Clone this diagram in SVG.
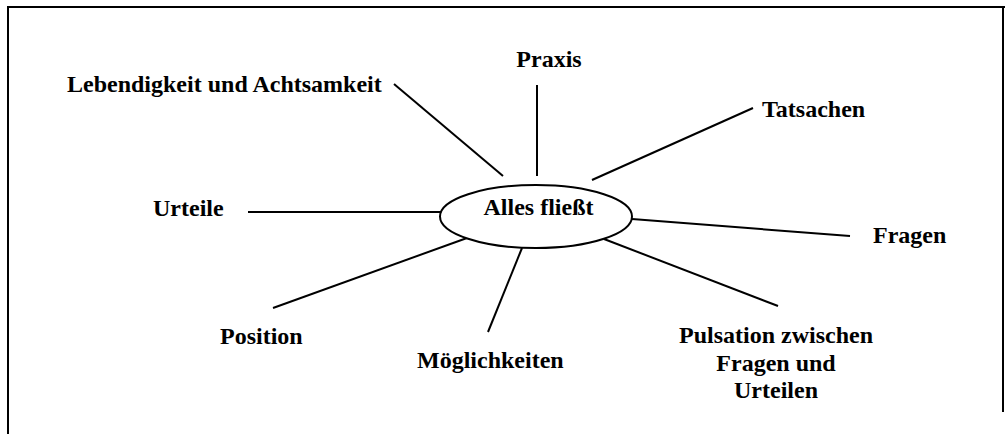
<svg xmlns="http://www.w3.org/2000/svg" width="1005" height="434" viewBox="0 0 1005 434">
<style>
.t{font-family:"Liberation Serif","Times New Roman",serif;font-weight:bold;font-size:24px;fill:#000}
.c{stroke:#000;stroke-width:2;fill:none}
.b{stroke:#000;stroke-width:2;fill:none}
</style>
<rect width="1005" height="434" fill="#fff"/>
<g id="frame">
<polyline class="b" points="8,434 8,7 1005,7"/>
<line class="b" x1="1003" y1="7" x2="1003" y2="412"/>
</g>
<g id="connectors">
<line class="c" x1="394" y1="84" x2="503" y2="176"/>
<line class="c" x1="537" y1="85" x2="537" y2="176"/>
<line class="c" x1="592" y1="180" x2="753" y2="108"/>
<line class="c" x1="248" y1="212" x2="442" y2="212"/>
<line class="c" x1="632" y1="219" x2="850" y2="236"/>
<line class="c" x1="604" y1="239" x2="778" y2="306"/>
<line class="c" x1="467" y1="238" x2="273" y2="308"/>
<line class="c" x1="522" y1="248" x2="488" y2="332"/>
</g>
<g id="center">
<ellipse cx="536" cy="216.5" rx="96" ry="31.5" fill="#fff" stroke="#000" stroke-width="2"/>
<text class="t" x="538.5" y="215" text-anchor="middle">Alles fließt</text>
</g>
<g id="n-lebendigkeit"><text class="t" x="67" y="92">Lebendigkeit und Achtsamkeit</text></g>
<g id="n-praxis"><text class="t" x="549" y="67" text-anchor="middle">Praxis</text></g>
<g id="n-tatsachen"><text class="t" x="762" y="117">Tatsachen</text></g>
<g id="n-urteile"><text class="t" x="153" y="216">Urteile</text></g>
<g id="n-fragen"><text class="t" x="873" y="243">Fragen</text></g>
<g id="n-position"><text class="t" x="220" y="344">Position</text></g>
<g id="n-moeglichkeiten"><text class="t" x="417" y="368">Möglichkeiten</text></g>
<g id="n-pulsation"><text class="t" text-anchor="middle"><tspan x="776" y="343">Pulsation zwischen</tspan><tspan x="776" y="371">Fragen und</tspan><tspan x="776" y="398">Urteilen</tspan></text></g>
</svg>
